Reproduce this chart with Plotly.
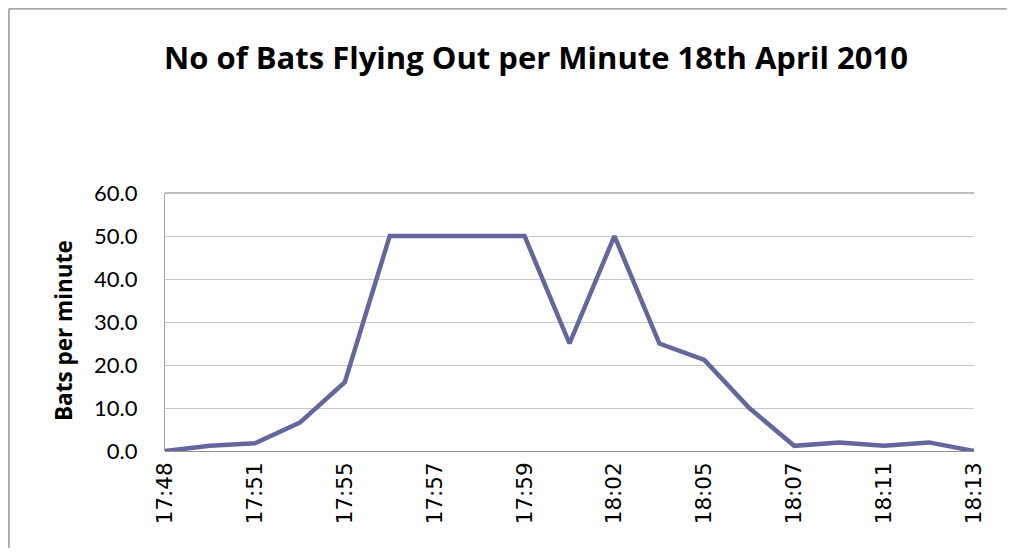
import plotly.graph_objects as go

times = ["17:48", "17:50", "17:51", "17:53", "17:55", "17:56", "17:57", "17:58",
         "17:59", "18:00", "18:02", "18:03", "18:05", "18:06", "18:07", "18:09",
         "18:11", "18:12", "18:13"]
bats = [0.0, 1.2, 1.8, 6.6, 16.0, 50.0, 50.0, 50.0, 50.0, 25.0, 50.0, 25.0,
        21.2, 10.0, 1.2, 2.0, 1.2, 2.0, 0.0]
shown_ticks = times[::2]
y_ticks = [0, 10, 20, 30, 40, 50, 60]
title_text = "No of Bats Flying Out per Minute 18th April 2010"
y_title = "Bats per minute"

# page has an 8px body margin, so the figure is laid out in shifted coordinates
OFF = 8
W, H = 1015 - 2 * OFF, 556 - 2 * OFF
L, R, T, B = 165 - OFF, 974 - OFF, 193 - OFF, 451 - OFF

fig = go.Figure(go.Scatter(
    x=times, y=bats, mode="lines",
    line=dict(color="#64669C", width=4.5),
    hoverinfo="x+y",
))

def px_x(p):
    return (p - OFF - L) / (R - L)

def px_y(p):
    return (B - (p - OFF)) / (B - T)

fig.update_layout(
    width=W, height=H,
    margin=dict(l=L, r=W - R, t=T, b=H - B),
    paper_bgcolor="white", plot_bgcolor="white",
    showlegend=False,
    title=dict(text=title_text, x=(536 - OFF) / W, xanchor="center",
               y=1 - (58 - OFF) / H, yanchor="middle",
               font=dict(family="Open Sans", size=31, color="black", weight="bold")),
    xaxis=dict(type="category", range=[0, len(times) - 1],
               tickmode="array", tickvals=shown_ticks, ticktext=shown_ticks,
               tickangle=-90, tickfont=dict(family="DejaVu Sans", size=21.5, color="black"),
               showgrid=False, showline=False, zeroline=False, ticks="",
               ticklabelstandoff=6),
    yaxis=dict(range=[0, 60], tickmode="array", tickvals=y_ticks,
               tickformat=".1f", tickfont=dict(family="Lato", size=22, color="black"),
               showgrid=True, gridcolor="#C8C8C8", gridwidth=1.3,
               showline=True, linecolor="#A0A0A0", linewidth=1.3,
               zeroline=True, zerolinecolor="#909090", zerolinewidth=1.3,
               ticks="", ticklabelstandoff=22),
    annotations=[dict(text=y_title, xref="paper", yref="paper", x=px_x(63), y=px_y(331),
                      xanchor="center", yanchor="middle", textangle=-90, showarrow=False,
                      font=dict(family="Open Sans", size=22.5, color="black", weight="bold"))],
    shapes=[
        dict(type="line", xref="paper", yref="paper", x0=px_x(8.8), x1=px_x(8.8),
             y0=px_y(8.8), y1=px_y(OFF + H), line=dict(color="#A8A8A8", width=2)),
        dict(type="line", xref="paper", yref="paper", x0=px_x(8.8), x1=px_x(OFF + W),
             y0=px_y(8.8), y1=px_y(8.8), line=dict(color="#A8A8A8", width=2)),
        dict(type="line", xref="paper", yref="paper", x0=0, x1=1, y0=1, y1=1,
             line=dict(color="#A8A8A8", width=1.3)),
    ],
)

fig.write_html("out.html")
